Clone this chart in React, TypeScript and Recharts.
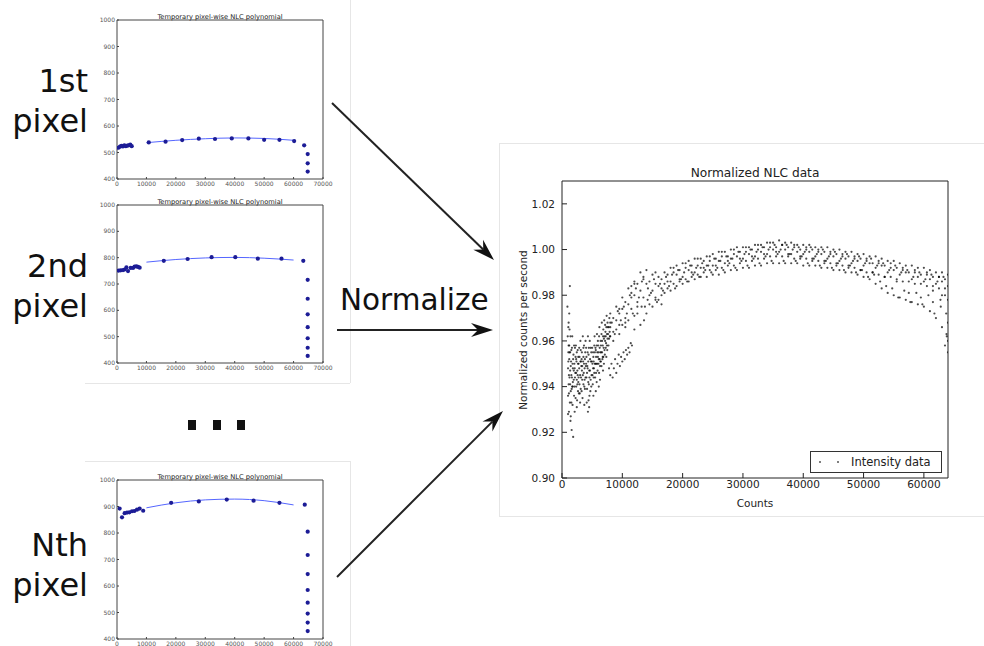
import React from 'react'
import { ComposedChart, ScatterChart, Scatter, Line, XAxis, YAxis } from 'recharts'

// per-pixel NLC samples, [counts, value]
const pixel1Samples: [number, number][] = [
  [500, 518], [1000, 522], [1500, 525], [2000, 523], [2500, 527], [3000, 524], [3500, 526], [4000, 527],
  [4500, 530], [5000, 524], [10800, 538], [16500, 541], [22150, 547], [27800, 552], [33300, 551],
  [39000, 553], [44650, 553], [50000, 548], [55200, 548], [60200, 543], [63600, 527], [64800, 494],
  [64800, 459], [64800, 428],
]
const pixel1Fit: [number, number][] = [[10000, 537], [20000, 546], [30000, 552], [40000, 555], [50000, 553], [60000, 546]]

const pixel2Samples: [number, number][] = [
  [570, 751], [1250, 752], [2050, 753], [2600, 755], [3200, 763], [3750, 749], [4650, 761], [5450, 761],
  [6000, 766], [6600, 767], [7150, 765], [7700, 762], [15900, 788], [24000, 795], [32150, 802], [40200, 802],
  [47850, 796], [55900, 796], [63300, 788], [64800, 716], [64800, 644], [64800, 585], [64800, 536],
  [64800, 494], [64800, 458], [64800, 427],
]
const pixel2Fit: [number, number][] = [[10000, 783], [20000, 793], [30000, 799], [40000, 801], [50000, 798], [60000, 791]]

const pixelNSamples: [number, number][] = [
  [900, 892], [1700, 859], [2600, 875], [3400, 877], [4200, 878], [5100, 882], [5900, 883], [6800, 888],
  [7700, 892], [8900, 884], [18400, 914], [27800, 919], [37300, 926], [46400, 922], [55200, 914],
  [63800, 907], [64800, 805], [64800, 717], [64800, 645], [64800, 585], [64800, 537], [64800, 496],
  [64800, 462], [64800, 430],
]
const pixelNFit: [number, number][] = [[10000, 895], [20000, 914], [30000, 925], [40000, 928], [50000, 922], [60000, 906]]

const smallXTicks = [0, 10000, 20000, 30000, 40000, 50000, 60000, 70000]
const smallYTicks = [400, 500, 600, 700, 800, 900, 1000]

// normalized data
const lowCountCluster: [number, number][] = [
  [900, 0.975], [950, 0.962], [1000, 0.948], [1000, 0.936], [1050, 0.955], [1100, 0.968], [1100, 0.941],
  [1150, 0.929], [1200, 0.952], [1200, 0.958], [1250, 0.944], [1300, 0.984], [1300, 0.933], [1350, 0.947],
  [1400, 0.962], [1400, 0.925], [1450, 0.938], [1500, 0.951], [1550, 0.945], [1600, 0.921], [1650, 0.957],
  [1700, 0.940], [1750, 0.932], [1800, 0.948], [1850, 0.918], [1900, 0.954], [1950, 0.943], [2000, 0.936],
  [2050, 0.950], [2100, 0.929], [2200, 0.946], [2300, 0.958], [2350, 0.940], [2400, 0.951], [2500, 0.934],
  [2550, 0.947], [2600, 0.956], [2700, 0.942], [2750, 0.950], [2800, 0.937], [2900, 0.953], [3000, 0.945],
  [3050, 0.960], [3100, 0.939], [3200, 0.949], [3300, 0.955], [3350, 0.943], [3400, 0.935], [3500, 0.951],
  [3600, 0.946], [3650, 0.958], [3700, 0.940], [3800, 0.952], [3900, 0.944], [4000, 0.957], [4100, 0.933],
  [4200, 0.949], [4300, 0.929], [4400, 0.954], [4450, 0.941], [4500, 0.947], [4600, 0.960], [4700, 0.938],
  [4800, 0.951], [4900, 0.945], [5000, 0.957], [5100, 0.941], [5200, 0.953], [5300, 0.948], [5400, 0.962],
  [5500, 0.944], [5600, 0.956], [5700, 0.950], [5800, 0.963], [5900, 0.947], [6000, 0.958], [6100, 0.952],
  [6200, 0.966], [6300, 0.949], [6400, 0.960], [6500, 0.955], [6600, 0.968], [6700, 0.952], [6800, 0.962],
  [6900, 0.957], [7000, 0.969], [7100, 0.954], [7200, 0.964], [7300, 0.959], [7400, 0.971], [7500, 0.956],
  [7600, 0.966], [7800, 0.961], [8000, 0.968], [1100, 0.958], [1600, 0.939], [2150, 0.957], [2450, 0.943],
  [2650, 0.938], [2850, 0.957], [3150, 0.951], [3450, 0.962], [3550, 0.941], [3750, 0.948], [4050, 0.944],
  [4250, 0.955], [4550, 0.936], [4750, 0.957], [5050, 0.950], [5250, 0.944], [5450, 0.955], [5650, 0.946],
  [5850, 0.955], [6050, 0.950], [6250, 0.957], [6450, 0.951], [6650, 0.960], [6850, 0.953], [7050, 0.962],
  [7250, 0.957], [7450, 0.963], [7700, 0.958], [2250, 0.935], [3250, 0.938], [1250, 0.965], [1750, 0.950],
  [2100, 0.948], [2350, 0.952], [2600, 0.945], [2900, 0.941], [3100, 0.956], [3300, 0.947], [3550, 0.953],
  [3800, 0.939], [4000, 0.950], [4150, 0.946], [4350, 0.942], [4650, 0.952], [4850, 0.940], [5150, 0.948],
  [5350, 0.958], [5550, 0.950], [5750, 0.942], [5950, 0.953], [6150, 0.946], [6350, 0.955], [6550, 0.949],
  [6750, 0.958], [6950, 0.950], [7150, 0.960], [7350, 0.953], [7550, 0.961], [7900, 0.964], [1150, 0.945],
  [1350, 0.955], [1550, 0.933], [1800, 0.942], [2000, 0.958], [2700, 0.953], [3000, 0.933], [3900, 0.960],
  [4500, 0.931], [4300, 0.962], [5600, 0.938], [6300, 0.943], [6800, 0.947], [1000, 0.928], [1200, 0.972],
  [1050, 0.966], [1450, 0.927], [1700, 0.962], [2450, 0.931], [3700, 0.932], [4400, 0.934], [5200, 0.936],
  [6100, 0.940],
  [1050, 0.951], [1150, 0.937], [1250, 0.955], [1350, 0.941], [1450, 0.949], [1550, 0.956], [1650, 0.944],
  [1750, 0.940], [1850, 0.952], [1950, 0.947], [2050, 0.940], [2150, 0.944], [2250, 0.953], [2350, 0.946],
  [2450, 0.955], [2550, 0.941], [2650, 0.950], [2750, 0.944], [2850, 0.948], [2950, 0.937], [3050, 0.951],
  [3150, 0.944], [3250, 0.952], [3350, 0.949], [3450, 0.945], [3550, 0.957], [3650, 0.950], [3750, 0.943],
  [3850, 0.955], [3950, 0.949], [4050, 0.953], [4150, 0.939], [4250, 0.948], [4350, 0.951], [4450, 0.957],
  [4550, 0.944], [4650, 0.947], [4750, 0.943], [4850, 0.955], [4950, 0.951], [5050, 0.945], [5150, 0.955],
  [5250, 0.951], [5350, 0.946], [5450, 0.950], [5550, 0.957], [5650, 0.953], [5750, 0.958], [5850, 0.950],
  [5950, 0.960], [6050, 0.955], [6150, 0.962], [6250, 0.952], [6350, 0.951], [6450, 0.958], [6550, 0.963],
  [6650, 0.955], [6750, 0.953], [6850, 0.965], [6950, 0.961], [7050, 0.956], [7150, 0.967], [7250, 0.962],
  [7350, 0.966], [7450, 0.958], [7550, 0.968], [7650, 0.963], [7750, 0.966], [7850, 0.970], [7950, 0.962],
]
const lowCountStreak: [number, number][] = [
  [7800, 0.948], [8000, 0.945], [8200, 0.950], [8400, 0.944], [8600, 0.948], [8800, 0.952], [9000, 0.946],
  [9200, 0.950], [9400, 0.954], [9600, 0.949], [9800, 0.953], [10000, 0.951], [10200, 0.955], [10400, 0.952],
  [10600, 0.956], [10800, 0.954], [11000, 0.957], [11200, 0.955], [11400, 0.959], [11600, 0.958],
]
const strayPoints: [number, number][] = [
  [64000, 0.955], [63800, 0.962], [63500, 0.958], [64000, 0.968], [63700, 0.972], [62800, 0.975],
  [61500, 0.977], [64000, 0.978], [63000, 0.980], [12500, 0.972], [13200, 0.975], [13600, 0.969],
  [14200, 0.978], [12000, 0.985], [11500, 0.984], [15500, 0.978], [16500, 0.976], [10500, 0.966],
  [9500, 0.963], [12000, 0.965],
]

const bandCountsA = [
  8000, 9000, 10000, 11000, 12000, 13000, 14000, 15000, 16000, 17000,
  18000, 19000, 20000, 21000, 22000, 23000, 24000, 25000, 26000, 27000,
  28000, 29000, 30000, 31000, 32000, 33000, 34000, 35000, 36000, 37000,
  38000, 39000, 40000, 41000, 42000, 43000, 44000, 45000, 46000, 47000,
  48000, 49000, 50000, 51000, 52000, 53000, 54000, 55000, 56000, 57000,
  58000, 59000, 60000, 61000, 62000, 63000, 64000,
]
const bandCountsB = [
  8500, 9500, 10500, 11500, 12500, 13500, 14500, 15500, 16500, 17500,
  18500, 19500, 20500, 21500, 22500, 23500, 24500, 25500, 26500, 27500,
  28500, 29500, 30500, 31500, 32500, 33500, 34500, 35500, 36500, 37500,
  38500, 39500, 40500, 41500, 42500, 43500, 44500, 45500, 46500, 47500,
  48500, 49500, 50500, 51500, 52500, 53500, 54500, 55500, 56500, 57500,
  58500, 59500, 60500, 61500, 62500, 63500,
]
const bandCountsC = [
  8250, 9250, 10250, 11250, 12250, 13250, 14250, 15250, 16250, 17250,
  18250, 19250, 20250, 21250, 22250, 23250, 24250, 25250, 26250, 27250,
  28250, 29250, 30250, 31250, 32250, 33250, 34250, 35250, 36250, 37250,
  38250, 39250, 40250, 41250, 42250, 43250, 44250, 45250, 46250, 47250,
  48250, 49250, 50250, 51250, 52250, 53250, 54250, 55250, 56250, 57250,
  58250, 59250, 60250, 61250, 62250, 63250,
]
const bandCountsD = [
  8750, 9750, 10750, 11750, 12750, 13750, 14750, 15750, 16750, 17750,
  18750, 19750, 20750, 21750, 22750, 23750, 24750, 25750, 26750, 27750,
  28750, 29750, 30750, 31750, 32750, 33750, 34750, 35750, 36750, 37750,
  38750, 39750, 40750, 41750, 42750, 43750, 44750, 45750, 46750, 47750,
  48750, 49750, 50750, 51750, 52750, 53750, 54750, 55750, 56750, 57750,
  58750, 59750, 60750, 61750, 62750, 63750,
]
const trackUpper = [
  0.972, 0.975, 0.979, 0.983, 0.986, 0.990, 0.991, 0.989, 0.988, 0.990,
  0.992, 0.993, 0.994, 0.995, 0.996, 0.996, 0.997, 0.998, 0.999, 0.999,
  1.000, 1.001, 1.001, 1.001, 1.002, 1.002, 1.003, 1.003, 1.004, 1.003,
  1.003, 1.002, 1.002, 1.002, 1.001, 1.001, 1.001, 1.000, 1.000, 0.999,
  0.999, 0.998, 0.998, 0.997, 0.997, 0.996, 0.995, 0.995, 0.994, 0.993,
  0.993, 0.992, 0.992, 0.991, 0.990, 0.990, 0.989,
]
const trackMiddle = [
  0.966, 0.969, 0.974, 0.976, 0.980, 0.982, 0.985, 0.982, 0.984, 0.985,
  0.986, 0.989, 0.988, 0.991, 0.990, 0.992, 0.993, 0.993, 0.995, 0.994,
  0.996, 0.997, 0.996, 0.998, 0.997, 0.999, 0.998, 1.000, 0.999, 1.000,
  0.998, 0.999, 0.998, 0.999, 0.997, 0.998, 0.996, 0.997, 0.995, 0.996,
  0.994, 0.995, 0.993, 0.994, 0.992, 0.993, 0.990, 0.991, 0.989, 0.990,
  0.987, 0.988, 0.986, 0.987, 0.985, 0.986, 0.984,
]
const trackLower = [
  0.962, 0.965, 0.967, 0.969, 0.971, 0.967, 0.972, 0.975, 0.978, 0.981,
  0.982, 0.984, 0.985, 0.986, 0.987, 0.988, 0.988, 0.989, 0.989, 0.990,
  0.991, 0.991, 0.992, 0.992, 0.993, 0.993, 0.994, 0.994, 0.994, 0.994,
  0.994, 0.994, 0.993, 0.993, 0.993, 0.992, 0.992, 0.991, 0.991, 0.990,
  0.990, 0.989, 0.988, 0.987, 0.985, 0.983, 0.981, 0.980, 0.979, 0.978,
  0.977, 0.976, 0.975, 0.973, 0.970, 0.966, 0.960,
]
const trackUpperMid = [
  0.970, 0.974, 0.977, 0.981, 0.985, 0.987, 0.986, 0.985, 0.987, 0.989,
  0.990, 0.991, 0.992, 0.993, 0.993, 0.995, 0.995, 0.996, 0.997, 0.997,
  0.998, 0.999, 0.999, 1.000, 1.000, 1.001, 1.001, 1.001, 1.002, 1.001,
  1.001, 1.000, 1.000, 1.000, 0.999, 0.999, 0.998, 0.998, 0.997, 0.997,
  0.996, 0.996, 0.995, 0.994, 0.994, 0.993, 0.992, 0.992, 0.991, 0.990,
  0.990, 0.989, 0.989, 0.988, 0.988, 0.987,
]
const trackLowerMid = [
  0.964, 0.967, 0.970, 0.974, 0.977, 0.979, 0.980, 0.979, 0.980, 0.983,
  0.985, 0.986, 0.987, 0.988, 0.989, 0.990, 0.991, 0.991, 0.992, 0.993,
  0.993, 0.994, 0.995, 0.995, 0.996, 0.996, 0.997, 0.997, 0.997, 0.997,
  0.996, 0.996, 0.996, 0.995, 0.995, 0.994, 0.994, 0.993, 0.993, 0.992,
  0.992, 0.991, 0.990, 0.990, 0.989, 0.988, 0.988, 0.987, 0.986, 0.986,
  0.985, 0.985, 0.984, 0.984, 0.983, 0.983,
]
const trackNoisy = [
  0.960, 0.972, 0.968, 0.979, 0.975, 0.988, 0.976, 0.990, 0.983, 0.986,
  0.992, 0.987, 0.994, 0.990, 0.996, 0.992, 0.997, 0.993, 0.999, 0.995,
  1.000, 0.996, 1.001, 0.997, 1.002, 0.998, 1.003, 0.999, 1.002, 0.998,
  1.002, 0.997, 1.001, 0.996, 1.000, 0.995, 0.999, 0.994, 0.998, 0.993,
  0.997, 0.991, 0.996, 0.990, 0.995, 0.988, 0.994, 0.986, 0.992, 0.981,
  0.991, 0.979, 0.990, 0.982, 0.988, 0.980,
]
const trackUpperNoisy = [
  0.968, 0.973, 0.975, 0.980, 0.983, 0.986, 0.983, 0.987, 0.985, 0.988,
  0.989, 0.991, 0.990, 0.993, 0.992, 0.994, 0.993, 0.996, 0.995, 0.997,
  0.996, 0.999, 0.998, 1.000, 0.999, 1.001, 1.000, 1.002, 1.000, 1.002,
  1.000, 1.001, 0.999, 1.001, 0.998, 1.000, 0.997, 0.999, 0.996, 0.998,
  0.995, 0.997, 0.994, 0.996, 0.993, 0.994, 0.991, 0.993, 0.990, 0.991,
  0.988, 0.990, 0.987, 0.989, 0.986, 0.988,
]
const trackLowerNoisy = [
  0.963, 0.969, 0.972, 0.972, 0.979, 0.975, 0.981, 0.977, 0.982, 0.984,
  0.983, 0.987, 0.986, 0.989, 0.988, 0.991, 0.990, 0.992, 0.991, 0.994,
  0.992, 0.995, 0.993, 0.996, 0.994, 0.997, 0.995, 0.998, 0.995, 0.998,
  0.995, 0.997, 0.994, 0.996, 0.993, 0.995, 0.992, 0.994, 0.991, 0.993,
  0.990, 0.991, 0.988, 0.989, 0.986, 0.984, 0.983, 0.979, 0.982, 0.977,
  0.981, 0.976, 0.980, 0.972, 0.978, 0.963,
]

const bigXTicks = [0, 10000, 20000, 30000, 40000, 50000, 60000]
const bigYTicks = [0.9, 0.92, 0.94, 0.96, 0.98, 1.0, 1.02]

const toPts = (arr: [number, number][]) => arr.map(([x, y]) => ({ x, y }))
const zip = (xs: number[], ys: number[]) => ys.map((y, i) => ({ x: xs[i], y }))

const normalizedPoints = [
  ...toPts(lowCountCluster),
  ...toPts(lowCountStreak),
  ...zip(bandCountsA, trackUpper),
  ...zip(bandCountsA, trackMiddle),
  ...zip(bandCountsA, trackLower),
  ...zip(bandCountsB, trackUpperMid),
  ...zip(bandCountsB, trackLowerMid),
  ...zip(bandCountsB, trackNoisy),
  ...zip(bandCountsC, trackUpperNoisy),
  ...zip(bandCountsD, trackLowerNoisy),
  ...toPts(strayPoints),
]

const FONT = '"DejaVu Sans", sans-serif'
const noMark = () => <g />

function PixelChart({ top, height, samples, fit }: { top: number; height: number; samples: [number, number][]; fit: [number, number][] }) {
  const frame = '#444'
  const pts = toPts(samples)
  return (
    <div style={{ position: 'absolute', left: 95, top }}>
      <ComposedChart width={250} height={height} margin={{ top: 14, right: 21, bottom: 4, left: 0 }}>
        <XAxis xAxisId="b" type="number" dataKey="x" domain={[0, 70000]} ticks={smallXTicks} interval={0} allowDataOverflow
          height={12} tickSize={-2} tickMargin={5} stroke={frame} tick={{ fontSize: 6, fill: '#555' }} />
        <XAxis xAxisId="t" orientation="top" type="number" dataKey="x" domain={[0, 70000]} ticks={smallXTicks} interval={0} allowDataOverflow
          height={1} tickSize={-2} tick={false} stroke={frame} />
        <YAxis yAxisId="l" type="number" dataKey="y" domain={[400, 1000]} ticks={smallYTicks} interval={0} allowDataOverflow
          width={22} tickSize={-2} tickMargin={4} stroke={frame} tick={{ fontSize: 6, fill: '#555' }} />
        <YAxis yAxisId="r" orientation="right" type="number" dataKey="y" domain={[400, 1000]} ticks={smallYTicks} interval={0} allowDataOverflow
          width={1} tickSize={-2} tick={false} stroke={frame} />
        <Line xAxisId="b" yAxisId="l" data={toPts(fit)} dataKey="y" type="monotone" stroke="#5566ff" strokeWidth={1}
          dot={false} activeDot={false} isAnimationActive={false} />
        <Scatter xAxisId="b" yAxisId="l" data={pts} dataKey="y" isAnimationActive={false}
          shape={(p: any) => <circle cx={p.cx} cy={p.cy} r={2.1} fill="#1c1c96" />} />
        <Scatter xAxisId="t" yAxisId="r" data={pts} dataKey="y" isAnimationActive={false} shape={noMark} />
      </ComposedChart>
    </div>
  )
}

function NormalizedChart() {
  const frame = '#222'
  return (
    <div style={{ position: 'absolute', left: 500, top: 143 }}>
      <ScatterChart width={484} height={373} margin={{ top: 37, right: 35, bottom: 8, left: 0 }}>
        <XAxis xAxisId="b" type="number" dataKey="x" domain={[0, 64000]} ticks={bigXTicks} interval={0} allowDataOverflow
          height={30} tickSize={-5} tickMargin={8} stroke={frame} tick={{ fontSize: 10.5, fill: '#222' }} />
        <XAxis xAxisId="t" orientation="top" type="number" dataKey="x" domain={[0, 64000]} ticks={bigXTicks} interval={0} allowDataOverflow
          height={1} tickSize={-5} tick={false} stroke={frame} />
        <YAxis yAxisId="l" type="number" dataKey="y" domain={[0.9, 1.03]} ticks={bigYTicks} interval={0} allowDataOverflow
          width={62} tickSize={-5} tickMargin={12} stroke={frame} tick={{ fontSize: 10.5, fill: '#222' }}
          tickFormatter={(v: number) => v.toFixed(2)} />
        <YAxis yAxisId="r" orientation="right" type="number" dataKey="y" domain={[0.9, 1.03]} ticks={bigYTicks} interval={0} allowDataOverflow
          width={1} tickSize={-5} tick={false} stroke={frame} />
        <Scatter xAxisId="b" yAxisId="l" name="Intensity data" data={normalizedPoints} dataKey="y" isAnimationActive={false}
          shape={(p: any) => <circle cx={p.cx} cy={p.cy} r={1.1} fill="#000" fillOpacity={0.7} />} />
        <Scatter xAxisId="t" yAxisId="r" data={toPts(strayPoints)} dataKey="y" isAnimationActive={false} shape={noMark} />
      </ScatterChart>
    </div>
  )
}

function Arrow({ x1, y1, x2, y2 }: { x1: number; y1: number; x2: number; y2: number }) {
  const len = Math.hypot(x2 - x1, y2 - y1)
  const ux = (x2 - x1) / len
  const uy = (y2 - y1) / len
  const nx = -uy
  const ny = ux
  const L = 22, W = 7, notch = 7
  const bx = x2 - ux * L, by = y2 - uy * L
  const mx = x2 - ux * (L - notch), my = y2 - uy * (L - notch)
  const pts = [[x2, y2], [bx + nx * W, by + ny * W], [mx, my], [bx - nx * W, by - ny * W]]
  return (
    <g>
      <line x1={x1} y1={y1} x2={mx} y2={my} stroke="#222" strokeWidth={2} />
      <polygon points={pts.map((p) => p.join(',')).join(' ')} fill="#111" />
    </g>
  )
}

export default function App() {
  const label = { fontSize: 32, fill: '#111', textAnchor: 'end' as const }
  const smallTitle = { fontSize: 6.7, fill: '#222', textAnchor: 'middle' as const }
  return (
    <div style={{ position: 'absolute', left: 0, top: 0, width: 984, height: 646, background: '#fff', overflow: 'hidden', fontFamily: FONT }}>
      {/* faint panel edges of the pasted figures */}
      <svg width={984} height={646} style={{ position: 'absolute', left: 0, top: 0 }}>
        <g stroke="#e6e6e6" strokeWidth={1}>
          <line x1={350.5} y1={0} x2={350.5} y2={383} />
          <line x1={85} y1={383.5} x2={350} y2={383.5} />
          <line x1={85} y1={461.5} x2={350} y2={461.5} />
          <line x1={350.5} y1={461} x2={350.5} y2={646} />
          <line x1={499} y1={143.5} x2={984} y2={143.5} />
          <line x1={499} y1={516.5} x2={984} y2={516.5} />
          <line x1={499.5} y1={143} x2={499.5} y2={516} />
        </g>
      </svg>

      <PixelChart top={5} height={190} samples={pixel1Samples} fit={pixel1Fit} />
      <PixelChart top={190} height={189} samples={pixel2Samples} fit={pixel2Fit} />
      <PixelChart top={465} height={190} samples={pixelNSamples} fit={pixelNFit} />
      <NormalizedChart />

      <div style={{ position: 'absolute', left: 810, top: 451, width: 130, height: 20, border: '1px solid #333', background: '#fff' }}>
        <span style={{ position: 'absolute', left: 8, top: 9, width: 2, height: 2, borderRadius: 1, background: '#555' }} />
        <span style={{ position: 'absolute', left: 26, top: 9, width: 2, height: 2, borderRadius: 1, background: '#555' }} />
        <span style={{ position: 'absolute', left: 40, top: 2, fontSize: 11.5, lineHeight: '16px', color: '#222', whiteSpace: 'nowrap' }}>Intensity data</span>
      </div>

      <svg width={984} height={646} style={{ position: 'absolute', left: 0, top: 0, pointerEvents: 'none' }}>
        <text x={220} y={19} {...smallTitle}>Temporary pixel-wise NLC polynomial</text>
        <text x={220} y={203.5} {...smallTitle}>Temporary pixel-wise NLC polynomial</text>
        <text x={220} y={478.5} {...smallTitle}>Temporary pixel-wise NLC polynomial</text>

        <text x={88} y={92} {...label}>1st</text>
        <text x={88} y={132} {...label}>pixel</text>
        <text x={88} y={277} {...label}>2nd</text>
        <text x={88} y={317} {...label}>pixel</text>
        <text x={88} y={556} {...label}>Nth</text>
        <text x={88} y={596} {...label}>pixel</text>

        <rect x={188} y={420} width={8} height={10} fill="#111" />
        <rect x={213} y={420} width={8} height={10} fill="#111" />
        <rect x={237} y={420} width={8} height={10} fill="#111" />

        <text x={340} y={310} fontSize={29.5} fill="#111">Normalize</text>

        <Arrow x1={332} y1={103} x2={494} y2={260} />
        <Arrow x1={337} y1={330} x2={493} y2={330} />
        <Arrow x1={337} y1={577} x2={503} y2={411} />

        <text x={755} y={177} fontSize={12.2} fill="#222" textAnchor="middle">Normalized NLC data</text>
        <text x={755} y={507} fontSize={10.5} fill="#222" textAnchor="middle">Counts</text>
        <text transform="translate(527,330) rotate(-90)" fontSize={10.5} fill="#222" textAnchor="middle">Normalized counts per second</text>
      </svg>
    </div>
  )
}
